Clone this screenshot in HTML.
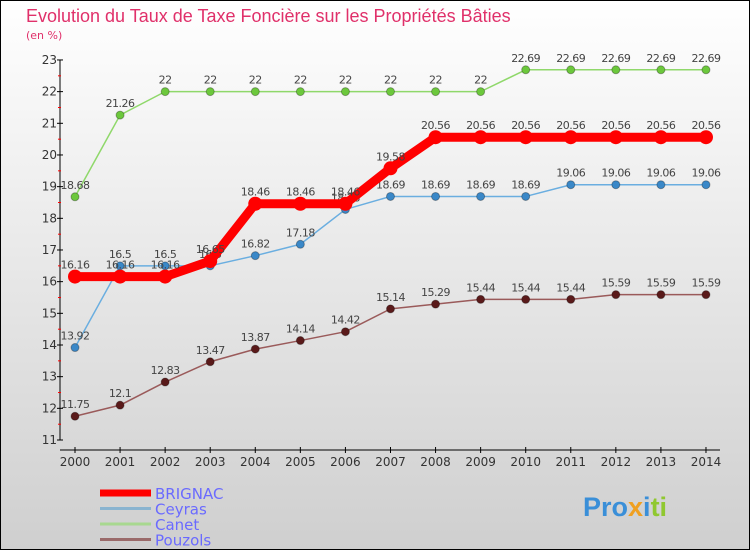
<!DOCTYPE html>
<html><head><meta charset="utf-8"><style>
body{margin:0;}
#c{width:750px;height:550px;position:relative;overflow:hidden;font-family:"DejaVu Sans","Liberation Sans",sans-serif;}
</style></head><body>
<div id="c">
<svg id="s" width="750" height="550" xmlns="http://www.w3.org/2000/svg">
<defs><linearGradient id="bg" x1="0" y1="0" x2="0" y2="1"><stop offset="0" stop-color="#ffffff"/><stop offset="1" stop-color="#cfcfcf"/></linearGradient></defs>
<rect x="0.5" y="0.5" width="749" height="549" fill="url(#bg)" stroke="#000"/>
<text x="26" y="22" font-size="18" fill="#e0306a" font-family="Liberation Sans, sans-serif">Evolution du Taux de Taxe Foncière sur les Propriétés Bâties</text>
<text x="26" y="39" font-size="11" fill="#e0306a">(en %)</text>
<g id="axes"></g><g id="series"></g><g id="legend"></g>
<text x="583" y="516" font-size="27" font-weight="bold" font-family="Liberation Sans, sans-serif"><tspan fill="#3a8fd8">Pro</tspan><tspan fill="#f0a020">x</tspan><tspan fill="#3a8fd8">i</tspan><tspan fill="#90c830">ti</tspan></text>
</svg>
</div>
<script>
const years=[2000,2001,2002,2003,2004,2005,2006,2007,2008,2009,2010,2011,2012,2013,2014];
const brignac=[16.16,16.16,16.16,16.65,18.46,18.46,18.46,19.58,20.56,20.56,20.56,20.56,20.56,20.56,20.56];
const ceyras=[13.92,16.5,16.5,16.5,16.82,17.18,18.28,18.69,18.69,18.69,18.69,19.06,19.06,19.06,19.06];
const canet=[18.68,21.26,22,22,22,22,22,22,22,22,22.69,22.69,22.69,22.69,22.69];
const pouzols=[11.75,12.1,12.83,13.47,13.87,14.14,14.42,15.14,15.29,15.44,15.44,15.44,15.59,15.59,15.59];
const yTicks=[11,12,13,14,15,16,17,18,19,20,21,22,23];
const NS="http://www.w3.org/2000/svg";
const xs=i=>75+i*45.07;
const ys=v=>440-(v-11)*31.67;
function mk(t,a,p){const e=document.createElementNS(NS,t);for(const k in a)e.setAttribute(k,a[k]);p.appendChild(e);return e;}
const ax=document.getElementById('axes');
let l=mk('line',{x1:60,y1:60,x2:60,y2:440,stroke:'#000'},ax);

l=mk('line',{x1:60,y1:450,x2:720,y2:450,stroke:'#000'},ax);

yTicks.forEach((v,i)=>{const y=ys(v);mk('line',{x1:57,y1:y,x2:63,y2:y,stroke:'#000'},ax);
if(i<yTicks.length-1)mk('line',{x1:58,y1:y-15.8,x2:61,y2:y-15.8,stroke:'#f00'},ax);
const t=mk('text',{x:57,y:y+4,'font-size':12,'text-anchor':'end',fill:'#333'},ax);t.textContent=v;
});
years.forEach((yr,i)=>{const x=xs(i);mk('line',{x1:x,y1:447,x2:x,y2:453,stroke:'#000'},ax);
const t=mk('text',{x:x,y:466,'font-size':12,'text-anchor':'middle',fill:'#333'},ax);t.textContent=yr;
});
const sg=document.getElementById('series');
function series(name,d,col,dot,w,r){const g=mk('g',{},sg);

const p=mk('polyline',{points:d.map((v,i)=>xs(i)+','+ys(v)).join(' '),fill:'none',stroke:col,'stroke-width':w,'stroke-linejoin':'round'},g);

d.forEach((v,i)=>{const c=mk('circle',{cx:xs(i),cy:ys(v),r:r,fill:dot,stroke:col==='#f00'?'none':'rgba(0,0,0,0.3)'},g);

const t=mk('text',{x:xs(i),y:ys(v)-8,'font-size':11,'text-anchor':'middle',fill:'#444','letter-spacing':'-0.5'},g);t.textContent=v;
});}
series('canet',canet,'#8fd86a','#6cc83c',1.5,4);
series('pouzols',pouzols,'#9a5a5a','#5a1a1a',1.5,4);
series('ceyras',ceyras,'#6aaee0','#3a88c8',1.5,4);
series('brignac',brignac,'#f00','#f00',9,7);
const lg=document.getElementById('legend');
[['BRIGNAC','#f00',7],['Ceyras','#8ab4d0',3],['Canet','#a8d890',3],['Pouzols','#9a6a6a',3]].forEach((e,i)=>{
const y=493+i*15.5;const g=mk('g',{},lg);

mk('line',{x1:100,y1:y,x2:151,y2:y,stroke:e[1],'stroke-width':e[2]},g);
const t=mk('text',{x:155,y:y+6,'font-size':15,fill:'#6a6aff'},g);t.textContent=e[0];});
</script>
</body></html>
